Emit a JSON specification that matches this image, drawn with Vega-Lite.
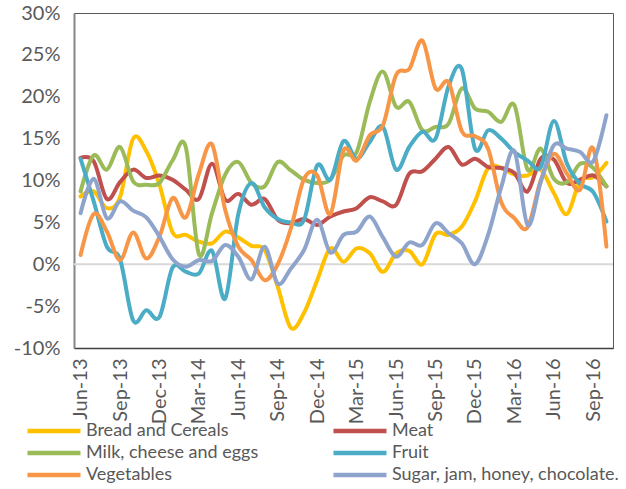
{
"$schema": "https://vega.github.io/schema/vega-lite/v6.json",
"width": 539, "height": 335,
"autosize": {"type": "none"},
"padding": {"left": 74, "top": 13, "right": 13, "bottom": 141},
"background": "white",
"config": {"view": {"stroke": "#595959", "strokeWidth": 1}, "font": "Lato"},
"layer": [
{"data": {"values": [{"value": 0}]},
 "mark": {"type": "rule", "color": "#D9D9D9", "strokeWidth": 2},
 "encoding": {"y": {"field": "value", "type": "quantitative", "scale": {"domain": [-10, 30], "nice": false, "zero": false},
    "axis": {"title": null, "values": [-10,-5,0,5,10,15,20,25,30], "labelExpr": "datum.value + '%'", "labelFontSize": 20, "labelColor": "#595959",
      "labelPadding": 14, "ticks": false, "grid": false, "domainColor": "#868686", "domainWidth": 2}}}},
{"data": {"values": [
{"series":"Bread and Cereals","month":"Jun-13","value":8.1},{"series":"Bread and Cereals","month":"Jul-13","value":8.7},{"series":"Bread and Cereals","month":"Aug-13","value":6.7},{"series":"Bread and Cereals","month":"Sep-13","value":8.0},{"series":"Bread and Cereals","month":"Oct-13","value":15.0},{"series":"Bread and Cereals","month":"Nov-13","value":13.5},{"series":"Bread and Cereals","month":"Dec-13","value":9.5},{"series":"Bread and Cereals","month":"Jan-14","value":3.8},{"series":"Bread and Cereals","month":"Feb-14","value":3.5},{"series":"Bread and Cereals","month":"Mar-14","value":2.7},{"series":"Bread and Cereals","month":"Apr-14","value":2.5},{"series":"Bread and Cereals","month":"May-14","value":3.9},{"series":"Bread and Cereals","month":"Jun-14","value":3.2},{"series":"Bread and Cereals","month":"Jul-14","value":2.2},{"series":"Bread and Cereals","month":"Aug-14","value":1.7},{"series":"Bread and Cereals","month":"Sep-14","value":-2.7},{"series":"Bread and Cereals","month":"Oct-14","value":-7.6},{"series":"Bread and Cereals","month":"Nov-14","value":-5.8},{"series":"Bread and Cereals","month":"Dec-14","value":-1.9},{"series":"Bread and Cereals","month":"Jan-15","value":1.9},{"series":"Bread and Cereals","month":"Feb-15","value":0.3},{"series":"Bread and Cereals","month":"Mar-15","value":1.9},{"series":"Bread and Cereals","month":"Apr-15","value":1.3},{"series":"Bread and Cereals","month":"May-15","value":-0.9},{"series":"Bread and Cereals","month":"Jun-15","value":1.3},{"series":"Bread and Cereals","month":"Jul-15","value":1.6},{"series":"Bread and Cereals","month":"Aug-15","value":0.0},{"series":"Bread and Cereals","month":"Sep-15","value":3.6},{"series":"Bread and Cereals","month":"Oct-15","value":3.5},{"series":"Bread and Cereals","month":"Nov-15","value":4.5},{"series":"Bread and Cereals","month":"Dec-15","value":7.5},{"series":"Bread and Cereals","month":"Jan-16","value":11.5},{"series":"Bread and Cereals","month":"Feb-16","value":11.5},{"series":"Bread and Cereals","month":"Mar-16","value":10.7},{"series":"Bread and Cereals","month":"Apr-16","value":10.6},{"series":"Bread and Cereals","month":"May-16","value":11.3},{"series":"Bread and Cereals","month":"Jun-16","value":8.5},{"series":"Bread and Cereals","month":"Jul-16","value":6.0},{"series":"Bread and Cereals","month":"Aug-16","value":10.0},{"series":"Bread and Cereals","month":"Sep-16","value":10.4},{"series":"Bread and Cereals","month":"Oct-16","value":12.1},
{"series":"Meat","month":"Jun-13","value":12.7},{"series":"Meat","month":"Jul-13","value":12.3},{"series":"Meat","month":"Aug-13","value":7.8},{"series":"Meat","month":"Sep-13","value":9.8},{"series":"Meat","month":"Oct-13","value":11.3},{"series":"Meat","month":"Nov-13","value":10.3},{"series":"Meat","month":"Dec-13","value":10.6},{"series":"Meat","month":"Jan-14","value":10.1},{"series":"Meat","month":"Feb-14","value":8.9},{"series":"Meat","month":"Mar-14","value":7.8},{"series":"Meat","month":"Apr-14","value":12.0},{"series":"Meat","month":"May-14","value":7.7},{"series":"Meat","month":"Jun-14","value":8.4},{"series":"Meat","month":"Jul-14","value":7.1},{"series":"Meat","month":"Aug-14","value":7.8},{"series":"Meat","month":"Sep-14","value":5.3},{"series":"Meat","month":"Oct-14","value":4.9},{"series":"Meat","month":"Nov-14","value":5.4},{"series":"Meat","month":"Dec-14","value":4.7},{"series":"Meat","month":"Jan-15","value":5.7},{"series":"Meat","month":"Feb-15","value":6.3},{"series":"Meat","month":"Mar-15","value":6.7},{"series":"Meat","month":"Apr-15","value":8.0},{"series":"Meat","month":"May-15","value":7.5},{"series":"Meat","month":"Jun-15","value":7.1},{"series":"Meat","month":"Jul-15","value":10.8},{"series":"Meat","month":"Aug-15","value":11.1},{"series":"Meat","month":"Sep-15","value":12.6},{"series":"Meat","month":"Oct-15","value":14.0},{"series":"Meat","month":"Nov-15","value":11.9},{"series":"Meat","month":"Dec-15","value":12.6},{"series":"Meat","month":"Jan-16","value":11.6},{"series":"Meat","month":"Feb-16","value":11.5},{"series":"Meat","month":"Mar-16","value":10.9},{"series":"Meat","month":"Apr-16","value":8.7},{"series":"Meat","month":"May-16","value":12.6},{"series":"Meat","month":"Jun-16","value":12.5},{"series":"Meat","month":"Jul-16","value":9.7},{"series":"Meat","month":"Aug-16","value":10.1},{"series":"Meat","month":"Sep-16","value":10.6},{"series":"Meat","month":"Oct-16","value":9.3},
{"series":"Milk, cheese and eggs","month":"Jun-13","value":8.7},{"series":"Milk, cheese and eggs","month":"Jul-13","value":13.0},{"series":"Milk, cheese and eggs","month":"Aug-13","value":11.3},{"series":"Milk, cheese and eggs","month":"Sep-13","value":14.0},{"series":"Milk, cheese and eggs","month":"Oct-13","value":9.9},{"series":"Milk, cheese and eggs","month":"Nov-13","value":9.5},{"series":"Milk, cheese and eggs","month":"Dec-13","value":9.7},{"series":"Milk, cheese and eggs","month":"Jan-14","value":12.4},{"series":"Milk, cheese and eggs","month":"Feb-14","value":14.0},{"series":"Milk, cheese and eggs","month":"Mar-14","value":1.2},{"series":"Milk, cheese and eggs","month":"Apr-14","value":6.1},{"series":"Milk, cheese and eggs","month":"May-14","value":10.7},{"series":"Milk, cheese and eggs","month":"Jun-14","value":12.2},{"series":"Milk, cheese and eggs","month":"Jul-14","value":9.7},{"series":"Milk, cheese and eggs","month":"Aug-14","value":9.3},{"series":"Milk, cheese and eggs","month":"Sep-14","value":12.2},{"series":"Milk, cheese and eggs","month":"Oct-14","value":11.2},{"series":"Milk, cheese and eggs","month":"Nov-14","value":10.1},{"series":"Milk, cheese and eggs","month":"Dec-14","value":9.7},{"series":"Milk, cheese and eggs","month":"Jan-15","value":10.1},{"series":"Milk, cheese and eggs","month":"Feb-15","value":13.0},{"series":"Milk, cheese and eggs","month":"Mar-15","value":13.4},{"series":"Milk, cheese and eggs","month":"Apr-15","value":19.4},{"series":"Milk, cheese and eggs","month":"May-15","value":23.0},{"series":"Milk, cheese and eggs","month":"Jun-15","value":18.8},{"series":"Milk, cheese and eggs","month":"Jul-15","value":19.4},{"series":"Milk, cheese and eggs","month":"Aug-15","value":16.0},{"series":"Milk, cheese and eggs","month":"Sep-15","value":16.4},{"series":"Milk, cheese and eggs","month":"Oct-15","value":16.8},{"series":"Milk, cheese and eggs","month":"Nov-15","value":21.0},{"series":"Milk, cheese and eggs","month":"Dec-15","value":18.6},{"series":"Milk, cheese and eggs","month":"Jan-16","value":18.2},{"series":"Milk, cheese and eggs","month":"Feb-16","value":17.0},{"series":"Milk, cheese and eggs","month":"Mar-16","value":19.0},{"series":"Milk, cheese and eggs","month":"Apr-16","value":11.3},{"series":"Milk, cheese and eggs","month":"May-16","value":13.8},{"series":"Milk, cheese and eggs","month":"Jun-16","value":10.2},{"series":"Milk, cheese and eggs","month":"Jul-16","value":9.8},{"series":"Milk, cheese and eggs","month":"Aug-16","value":12.0},{"series":"Milk, cheese and eggs","month":"Sep-16","value":11.5},{"series":"Milk, cheese and eggs","month":"Oct-16","value":9.3},
{"series":"Fruit","month":"Jun-13","value":12.6},{"series":"Fruit","month":"Jul-13","value":7.5},{"series":"Fruit","month":"Aug-13","value":2.1},{"series":"Fruit","month":"Sep-13","value":0.6},{"series":"Fruit","month":"Oct-13","value":-6.7},{"series":"Fruit","month":"Nov-13","value":-5.5},{"series":"Fruit","month":"Dec-13","value":-6.3},{"series":"Fruit","month":"Jan-14","value":-0.4},{"series":"Fruit","month":"Feb-14","value":-0.9},{"series":"Fruit","month":"Mar-14","value":-1.1},{"series":"Fruit","month":"Apr-14","value":1.6},{"series":"Fruit","month":"May-14","value":-4.1},{"series":"Fruit","month":"Jun-14","value":6.0},{"series":"Fruit","month":"Jul-14","value":9.7},{"series":"Fruit","month":"Aug-14","value":6.8},{"series":"Fruit","month":"Sep-14","value":5.4},{"series":"Fruit","month":"Oct-14","value":5.0},{"series":"Fruit","month":"Nov-14","value":5.3},{"series":"Fruit","month":"Dec-14","value":11.8},{"series":"Fruit","month":"Jan-15","value":10.1},{"series":"Fruit","month":"Feb-15","value":14.7},{"series":"Fruit","month":"Mar-15","value":12.6},{"series":"Fruit","month":"Apr-15","value":14.6},{"series":"Fruit","month":"May-15","value":16.4},{"series":"Fruit","month":"Jun-15","value":11.3},{"series":"Fruit","month":"Jul-15","value":14.0},{"series":"Fruit","month":"Aug-15","value":15.8},{"series":"Fruit","month":"Sep-15","value":15.0},{"series":"Fruit","month":"Oct-15","value":21.3},{"series":"Fruit","month":"Nov-15","value":23.3},{"series":"Fruit","month":"Dec-15","value":13.8},{"series":"Fruit","month":"Jan-16","value":16.0},{"series":"Fruit","month":"Feb-16","value":15.0},{"series":"Fruit","month":"Mar-16","value":13.4},{"series":"Fruit","month":"Apr-16","value":12.4},{"series":"Fruit","month":"May-16","value":11.6},{"series":"Fruit","month":"Jun-16","value":17.1},{"series":"Fruit","month":"Jul-16","value":12.0},{"series":"Fruit","month":"Aug-16","value":9.6},{"series":"Fruit","month":"Sep-16","value":8.6},{"series":"Fruit","month":"Oct-16","value":5.1},
{"series":"Vegetables","month":"Jun-13","value":1.1},{"series":"Vegetables","month":"Jul-13","value":6.0},{"series":"Vegetables","month":"Aug-13","value":3.9},{"series":"Vegetables","month":"Sep-13","value":0.5},{"series":"Vegetables","month":"Oct-13","value":3.8},{"series":"Vegetables","month":"Nov-13","value":0.7},{"series":"Vegetables","month":"Dec-13","value":3.3},{"series":"Vegetables","month":"Jan-14","value":7.9},{"series":"Vegetables","month":"Feb-14","value":5.6},{"series":"Vegetables","month":"Mar-14","value":10.8},{"series":"Vegetables","month":"Apr-14","value":14.3},{"series":"Vegetables","month":"May-14","value":6.5},{"series":"Vegetables","month":"Jun-14","value":2.1},{"series":"Vegetables","month":"Jul-14","value":0.5},{"series":"Vegetables","month":"Aug-14","value":-1.9},{"series":"Vegetables","month":"Sep-14","value":0.0},{"series":"Vegetables","month":"Oct-14","value":4.3},{"series":"Vegetables","month":"Nov-14","value":10.2},{"series":"Vegetables","month":"Dec-14","value":10.6},{"series":"Vegetables","month":"Jan-15","value":6.0},{"series":"Vegetables","month":"Feb-15","value":13.6},{"series":"Vegetables","month":"Mar-15","value":12.4},{"series":"Vegetables","month":"Apr-15","value":15.4},{"series":"Vegetables","month":"May-15","value":16.6},{"series":"Vegetables","month":"Jun-15","value":22.6},{"series":"Vegetables","month":"Jul-15","value":23.3},{"series":"Vegetables","month":"Aug-15","value":26.7},{"series":"Vegetables","month":"Sep-15","value":21.0},{"series":"Vegetables","month":"Oct-15","value":21.7},{"series":"Vegetables","month":"Nov-15","value":15.9},{"series":"Vegetables","month":"Dec-15","value":15.3},{"series":"Vegetables","month":"Jan-16","value":13.8},{"series":"Vegetables","month":"Feb-16","value":7.4},{"series":"Vegetables","month":"Mar-16","value":5.5},{"series":"Vegetables","month":"Apr-16","value":4.4},{"series":"Vegetables","month":"May-16","value":10.0},{"series":"Vegetables","month":"Jun-16","value":13.2},{"series":"Vegetables","month":"Jul-16","value":10.8},{"series":"Vegetables","month":"Aug-16","value":8.9},{"series":"Vegetables","month":"Sep-16","value":13.8},{"series":"Vegetables","month":"Oct-16","value":2.1},
{"series":"Sugar, jam, honey, chocolate.","month":"Jun-13","value":6.1},{"series":"Sugar, jam, honey, chocolate.","month":"Jul-13","value":10.2},{"series":"Sugar, jam, honey, chocolate.","month":"Aug-13","value":5.5},{"series":"Sugar, jam, honey, chocolate.","month":"Sep-13","value":7.5},{"series":"Sugar, jam, honey, chocolate.","month":"Oct-13","value":6.4},{"series":"Sugar, jam, honey, chocolate.","month":"Nov-13","value":5.6},{"series":"Sugar, jam, honey, chocolate.","month":"Dec-13","value":3.3},{"series":"Sugar, jam, honey, chocolate.","month":"Jan-14","value":0.6},{"series":"Sugar, jam, honey, chocolate.","month":"Feb-14","value":-0.3},{"series":"Sugar, jam, honey, chocolate.","month":"Mar-14","value":0.5},{"series":"Sugar, jam, honey, chocolate.","month":"Apr-14","value":0.4},{"series":"Sugar, jam, honey, chocolate.","month":"May-14","value":2.3},{"series":"Sugar, jam, honey, chocolate.","month":"Jun-14","value":0.9},{"series":"Sugar, jam, honey, chocolate.","month":"Jul-14","value":-1.8},{"series":"Sugar, jam, honey, chocolate.","month":"Aug-14","value":2.1},{"series":"Sugar, jam, honey, chocolate.","month":"Sep-14","value":-2.3},{"series":"Sugar, jam, honey, chocolate.","month":"Oct-14","value":-0.5},{"series":"Sugar, jam, honey, chocolate.","month":"Nov-14","value":1.7},{"series":"Sugar, jam, honey, chocolate.","month":"Dec-14","value":5.3},{"series":"Sugar, jam, honey, chocolate.","month":"Jan-15","value":1.4},{"series":"Sugar, jam, honey, chocolate.","month":"Feb-15","value":3.5},{"series":"Sugar, jam, honey, chocolate.","month":"Mar-15","value":3.9},{"series":"Sugar, jam, honey, chocolate.","month":"Apr-15","value":5.7},{"series":"Sugar, jam, honey, chocolate.","month":"May-15","value":3.2},{"series":"Sugar, jam, honey, chocolate.","month":"Jun-15","value":0.9},{"series":"Sugar, jam, honey, chocolate.","month":"Jul-15","value":2.6},{"series":"Sugar, jam, honey, chocolate.","month":"Aug-15","value":2.3},{"series":"Sugar, jam, honey, chocolate.","month":"Sep-15","value":4.9},{"series":"Sugar, jam, honey, chocolate.","month":"Oct-15","value":3.7},{"series":"Sugar, jam, honey, chocolate.","month":"Nov-15","value":2.5},{"series":"Sugar, jam, honey, chocolate.","month":"Dec-15","value":0.0},{"series":"Sugar, jam, honey, chocolate.","month":"Jan-16","value":3.5},{"series":"Sugar, jam, honey, chocolate.","month":"Feb-16","value":9.2},{"series":"Sugar, jam, honey, chocolate.","month":"Mar-16","value":13.5},{"series":"Sugar, jam, honey, chocolate.","month":"Apr-16","value":4.7},{"series":"Sugar, jam, honey, chocolate.","month":"May-16","value":9.8},{"series":"Sugar, jam, honey, chocolate.","month":"Jun-16","value":14.2},{"series":"Sugar, jam, honey, chocolate.","month":"Jul-16","value":13.8},{"series":"Sugar, jam, honey, chocolate.","month":"Aug-16","value":13.4},{"series":"Sugar, jam, honey, chocolate.","month":"Sep-16","value":12.3},{"series":"Sugar, jam, honey, chocolate.","month":"Oct-16","value":17.8}
]},
 "mark": {"type": "line", "interpolate": "cardinal", "tension": 0, "strokeWidth": 4, "strokeCap": "round", "strokeJoin": "round"},
 "encoding": {
  "x": {"field": "month", "type": "ordinal",
    "scale": {"type": "point", "padding": 0.5, "domain": ["Jun-13","Jul-13","Aug-13","Sep-13","Oct-13","Nov-13","Dec-13","Jan-14","Feb-14","Mar-14","Apr-14","May-14","Jun-14","Jul-14","Aug-14","Sep-14","Oct-14","Nov-14","Dec-14","Jan-15","Feb-15","Mar-15","Apr-15","May-15","Jun-15","Jul-15","Aug-15","Sep-15","Oct-15","Nov-15","Dec-15","Jan-16","Feb-16","Mar-16","Apr-16","May-16","Jun-16","Jul-16","Aug-16","Sep-16","Oct-16"]},
    "axis": {"title": null, "values": ["Jun-13","Sep-13","Dec-13","Mar-14","Jun-14","Sep-14","Dec-14","Mar-15","Jun-15","Sep-15","Dec-15","Mar-16","Jun-16","Sep-16"],
      "labelAngle": 270, "labelFontSize": 20, "labelColor": "#595959", "labelPadding": 10, "ticks": false, "grid": false,
      "domainColor": "#404040", "domainWidth": 1.5}},
  "y": {"field": "value", "type": "quantitative",
    "scale": {"domain": [-10, 30], "nice": false, "zero": false},
    "axis": {"title": null, "values": [-10,-5,0,5,10,15,20,25,30], "labelExpr": "datum.value + '%'", "labelFontSize": 20, "labelColor": "#595959",
      "labelPadding": 14, "ticks": false, "grid": false, "domainColor": "#868686", "domainWidth": 2}},
  "color": {"field": "series", "type": "nominal",
    "scale": {"domain": ["Bread and Cereals","Meat","Milk, cheese and eggs","Fruit","Vegetables","Sugar, jam, honey, chocolate."],
              "range": ["#FFC000","#C0504D","#9BBB59","#4BACC6","#F79646","#8EA4CC"]},
    "legend": {"title": null, "orient": "none", "legendX": -11, "legendY": 408, "columns": 2, "direction": "horizontal",
      "symbolType": "M-6.07,0H1", "symbolSize": 225, "symbolStrokeWidth": 4.5, "symbolFillColor": "transparent", "labelFontSize": 18, "labelColor": "#595959",
      "labelOffset": 3, "columnPadding": 65, "rowPadding": 3, "labelLimit": 300}}
 }}
]
}
